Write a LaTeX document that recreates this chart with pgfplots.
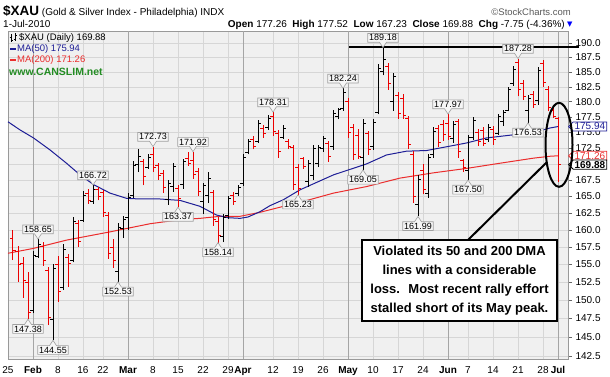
\documentclass[border=0pt]{standalone}
\usepackage{pgfplots}
\pgfplotsset{compat=1.18}
\usepackage{pgfplotstable}
\usetikzlibrary{shapes.callouts,shapes.symbols}
\usepackage{fontspec}
\setmainfont{Liberation Sans}
\newfontfamily\dejavu{DejaVu Sans}

\definecolor{barred}{RGB}{235,0,0}
\definecolor{maBlue}{RGB}{30,30,150}
\definecolor{maRed}{RGB}{235,45,45}
\definecolor{gridc}{RGB}{214,214,214}
\definecolor{bgc}{RGB}{240,240,240}
\definecolor{monthc}{RGB}{165,165,165}
\definecolor{csgreen}{RGB}{35,140,35}
\definecolor{lblborder}{RGB}{160,160,160}
\definecolor{lblfill}{RGB}{246,246,246}

\pgfplotstableread{
i o h l c
5 148.6 156.9 148.2 156.3
6 156.2 158.65 155.9 157.8
9 147.4 155.1 144.55 154.4
11 151.8 157.9 151.4 157.2
13 155.6 161.9 155.3 161.3
15 161.4 165.8 161.2 165.2
17 164.2 166.72 163.9 166.1
22 154.0 161.0 152.53 160.4
23 160.2 162.0 158.8 161.5
24 161.8 165.5 160.0 164.9
25 165.2 170.4 164.7 169.8
26 169.9 172.4 168.7 171.2
28 169.5 171.6 169.2 171.0
32 164.5 167.5 163.7 167.0
33 166.5 170.2 165.7 169.6
35 166.8 170.7 166.2 170.3
39 164.2 167.1 162.4 166.6
40 165.2 168.7 164.0 167.8
43 159.0 162.4 158.2 161.8
44 162.2 165.0 161.6 164.6
46 165.4 166.8 165.0 166.4
47 167.0 171.5 166.6 171.0
48 171.8 173.9 171.5 173.5
50 173.5 177.0 173.3 176.5
52 175.8 177.8 175.4 177.3
55 174.2 176.2 173.9 175.6
60 167.2 170.6 166.5 170.0
61 168.2 173.0 167.5 172.4
62 170.0 173.0 169.5 172.6
63 172.4 174.4 171.9 174.0
65 172.8 178.7 172.2 178.0
66 177.6 179.0 177.1 178.7
67 178.9 182.24 178.5 181.5
71 171.0 177.1 169.05 176.4
73 172.8 177.1 172.2 176.6
74 178.2 186.3 177.9 185.6
75 185.0 189.18 184.4 187.2
77 180.0 184.9 178.5 184.2
82 163.8 168.2 161.99 167.6
84 165.5 171.5 164.8 171.0
85 171.4 175.9 171.0 175.2
89 174.0 176.9 173.3 176.2
92 169.0 174.6 167.50 174.2
93 174.2 177.5 173.8 176.9
96 173.8 176.3 173.5 175.8
98 174.8 178.0 174.6 177.6
99 176.8 178.7 176.0 178.2
100 178.6 182.5 178.4 182.0
101 183.0 186.0 182.7 185.4
104 178.5 181.1 176.53 180.6
106 180.2 185.8 179.5 185.2
}\upbars

\pgfplotstableread{
i o h l c
1 158.8 160.0 155.6 157.0
2 156.8 157.6 152.5 155.0
3 155.2 156.1 150.3 152.8
4 152.4 153.9 147.38 148.3
7 157.6 158.2 154.8 155.5
8 154.1 154.6 146.6 147.6
10 155.0 156.2 149.8 151.2
12 156.0 156.5 151.8 155.2
14 161.0 161.4 157.5 158.3
16 165.5 166.1 163.9 164.4
18 166.0 166.4 164.4 165.0
19 165.6 166.0 161.9 162.5
20 162.2 162.7 155.8 156.5
21 157.5 158.7 154.5 155.6
27 170.3 170.7 166.7 168.0
29 171.5 172.73 168.7 169.5
30 169.7 170.2 167.5 168.2
31 168.5 169.0 165.5 166.3
34 166.2 166.7 163.37 164.6
36 170.8 171.9 169.7 170.0
37 170.5 171.92 167.7 168.4
38 168.8 169.4 165.0 165.8
41 165.6 166.0 160.6 161.5
42 161.3 161.9 158.14 159.2
45 165.2 165.6 163.7 164.2
49 173.8 174.4 172.3 172.8
51 175.6 176.2 174.1 174.8
53 177.6 178.31 174.4 175.2
54 174.8 175.4 171.0 172.0
56 173.6 173.9 172.3 172.8
57 172.5 173.0 166.0 166.8
58 169.5 170.0 165.23 166.2
59 170.8 171.1 169.2 169.6
64 173.2 173.6 170.3 171.2
68 180.0 180.6 174.1 175.0
69 175.8 176.3 170.6 171.5
70 174.5 175.5 170.8 171.2
72 174.8 175.2 171.4 172.2
76 186.0 186.5 182.0 183.0
78 181.0 181.6 177.2 178.0
79 180.5 181.3 177.2 177.8
80 177.2 177.7 172.3 173.0
81 171.5 172.0 164.0 165.0
83 169.0 170.0 165.3 166.0
86 175.6 176.2 172.6 173.4
87 176.2 177.0 173.6 174.6
88 176.5 177.97 173.8 174.4
90 176.8 177.2 171.0 172.0
91 170.6 170.8 168.7 169.4
94 175.0 175.6 172.8 173.5
95 175.3 175.9 172.8 173.2
97 175.5 176.0 173.0 173.8
102 186.6 187.28 180.9 182.0
103 183.0 183.6 180.3 180.9
105 181.2 181.7 179.0 179.6
107 186.5 187.1 182.5 183.2
108 182.0 182.7 178.4 179.0
109 178.6 179.0 177.3 177.63
110 177.26 177.52 167.23 169.88
}\dnbars

\pgfplotstableread{
i v
0 176.7
2.4 175.4
5.1 174.1
8.4 172.2
11.7 170.1
14.4 168.3
17.1 166.8
20.4 165.5
23.7 164.7
26.4 164.6
30.4 164.6
34.4 164.4
38.4 163.5
41.7 162.2
44 161.8
46.4 161.7
48 161.9
50.4 162.7
52.4 163.6
55.1 164.5
58.4 166.0
65.1 168.3
71.7 170.0
75.7 171.4
79.7 172.0
83.7 172.1
87.7 172.7
91.7 173.3
95.7 174.1
101.1 174.6
105.1 175.0
108.4 175.7
110 175.94
}\mafifty

\pgfplotstableread{
i v
0 156.6
5.1 157.3
11.7 158.5
20.4 159.7
28.4 160.9
34.4 161.5
38.4 161.7
42.4 162.0
46.4 162.0
50.4 162.6
55.1 163.5
58.4 164.1
65.1 165.5
71.7 166.5
78.4 167.8
85.1 168.6
91.7 169.3
98.4 170.1
105.1 170.9
108.4 171.2
110 171.26
}\matwohundred

\tikzset{
  lbl/.style={rectangle callout, draw=lblborder, fill=lblfill, line width=0.6pt,
    font=\fontsize{9}{10}\selectfont, inner xsep=1.5pt, inner ysep=1.2pt,
    callout pointer width=7pt, text=black},
  vbox/.style={signal, signal to=west, fill=white, line width=0.8pt,
    font=\fontsize{10}{11}\selectfont, inner xsep=1.5pt, inner ysep=1pt, anchor=west}
}
\pgfplotsset{
  hl/.style={draw=none, mark=none, forget plot, error bars/.cd, y dir=plus, y explicit, error mark=none,
    error bar style={draw=#1, line width=1pt}},
  tk/.style 2 args={draw=none, mark=none, forget plot, error bars/.cd, x dir=#2, x fixed=0.55, error mark=none,
    error bar style={draw=#1, line width=1pt}}
}
\newcommand{\highlab}[2]{\node[lbl,anchor=south,callout absolute pointer={(axis cs:#1,#2)}] at ([yshift=5pt]axis cs:#1,#2) {#2};}
\newcommand{\lowlab}[2]{\node[lbl,anchor=north,callout absolute pointer={(axis cs:#1,#2)}] at ([yshift=-5pt]axis cs:#1,#2) {#2};}

\begin{document}
\begin{tikzpicture}
\useasboundingbox (0,0) rectangle (610pt,377pt);
\begin{axis}[
  at={(8pt,18pt)}, anchor=south west,
  scale only axis, width=560pt, height=328pt,
  xmin=0, xmax=112, ymode=log, ymin=142.1, ymax=192.1,
  clip=false,
  axis background/.style={fill=bgc},
  axis line style={draw=black!40, line width=0.6pt},
  xtick={0,10,15,19,29,34,39,44,53,58,63,73,78,83,92,97,102,107},
  xticklabels={25,8,16,22,8,15,22,29,12,19,26,10,17,24,7,14,21,28},
  extra x ticks={5,24,47,68,88,110},
  extra x tick labels={Feb,Mar,Apr,May,Jun,Jul},
  extra x tick style={grid=major, major grid style={draw=monthc, line width=0.6pt},
     xticklabel style={font=\fontsize{10}{12}\selectfont\bfseries}},
  xmajorgrids, ymajorgrids, yminorgrids=false,
  major grid style={draw=gridc, line width=0.5pt},
  xtick style={draw=none},
  ytick={142.5,145,147.5,150,152.5,155,157.5,160,162.5,165,167.5,170,172.5,175,177.5,180,182.5,185,187.5,190},
  yticklabels={142.5,145.0,147.5,150.0,152.5,155.0,157.5,160.0,162.5,165.0,167.5,170.0,172.5,175.0,177.5,180.0,182.5,185.0,187.5,190.0},
  minor ytick={},
  ytick pos=right, yticklabel pos=right,
  ytick style={draw=black!60, line width=0.5pt},
  tick align=outside, major tick length=4pt,
  tick label style={font=\fontsize{10}{12}\selectfont},
]
% moving averages
\addplot[maRed, line width=1pt, no marks] table[x=i, y=v] {\matwohundred};
\addplot[maBlue, line width=1pt, no marks] table[x=i, y=v] {\mafifty};
% OHLC bars
\addplot[hl=black] table[x=i, y=l, y error expr=\thisrow{h}-\thisrow{l}] {\upbars};
\addplot[tk={black}{minus}] table[x=i, y=o] {\upbars};
\addplot[tk={black}{plus}] table[x=i, y=c] {\upbars};
\addplot[hl=barred] table[x=i, y=l, y error expr=\thisrow{h}-\thisrow{l}] {\dnbars};
\addplot[tk={barred}{minus}] table[x=i, y=o] {\dnbars};
\addplot[tk={barred}{plus}] table[x=i, y=c] {\dnbars};

% resistance line
\draw[black, line width=2pt] (axis cs:68.2,189.2) -- (axis cs:114.2,189.2);

% value labels
\highlab{6}{158.65}
\lowlab{4}{147.38}
\lowlab{9}{144.55}
\highlab{17}{166.72}
\lowlab{22}{152.53}
\highlab{29}{172.73}
\lowlab{34}{163.37}
\highlab{37}{171.92}
\lowlab{42}{158.14}
\highlab{53}{178.31}
\lowlab{58}{165.23}
\highlab{67}{182.24}
\lowlab{71}{169.05}
\highlab{75}{189.18}
\lowlab{82}{161.99}
\highlab{88}{177.97}
\lowlab{92}{167.50}
\highlab{102}{187.28}
\lowlab{104}{176.53}

% right-hand value boxes
\node[vbox, draw=maBlue, text=maBlue] at (axis cs:112,175.94) {175.94};
\node[vbox, draw=maRed, text=maRed] at (axis cs:112,171.26) {171.26};
\node[vbox, draw=black, text=black, font=\fontsize{10}{11}\selectfont\bfseries] at (axis cs:112,169.88) {169.88};

% ellipse
\draw[black, line width=2pt] (axis cs:110.2,173.0) ellipse [x radius=13.5pt, y radius=42pt];
\end{axis}

% header
\node[anchor=base west, inner sep=0] at (3pt,361pt) {{\fontsize{13.5}{14}\selectfont\bfseries \$XAU} {\fontsize{10}{12}\selectfont (Gold \& Silver Index - Philadelphia) INDX}};
\node[anchor=base east, inner sep=0, text=black!65, font=\fontsize{9.5}{11}\selectfont] at (571pt,361pt) {©StockCharts.com};
\node[anchor=base west, inner sep=0, font=\fontsize{10}{12}\selectfont] at (3pt,349pt) {1-Jul-2010};
\node[anchor=base east, inner sep=0, font=\fontsize{10}{12}\selectfont] at (565pt,349pt) {\textbf{Open} 177.26 \ \textbf{High} 177.52 \ \textbf{Low} 167.23 \ \textbf{Close} 169.88 \ \textbf{Chg} -7.75 (-4.36\%)};
\node[anchor=base west, inner sep=0, text=blue, font=\dejavu\fontsize{7}{8}\selectfont] at (567pt,350pt) {▼};

% legend
\draw[line width=0.7pt] (11pt,335pt)--(11pt,343pt) (9.5pt,340pt)--(11pt,340pt) (11pt,337pt)--(12.5pt,337pt);
\draw[line width=0.7pt] (15pt,336pt)--(15pt,344pt) (13.5pt,338pt)--(15pt,338pt) (15pt,342pt)--(16.5pt,342pt);
\node[anchor=west, inner sep=0, font=\fontsize{9.5}{11}\selectfont] at (19pt,339.5pt) {\$XAU (Daily) 169.88};
\draw[maBlue, line width=1.5pt] (10pt,328pt)--(16pt,328pt);
\node[anchor=west, inner sep=0, text=maBlue, font=\fontsize{9.5}{11}\selectfont] at (17pt,328pt) {MA(50) 175.94};
\draw[maRed, line width=1.5pt] (10pt,317pt)--(16pt,317pt);
\node[anchor=west, inner sep=0, text=maRed, font=\fontsize{9.5}{11}\selectfont] at (17pt,317pt) {MA(200) 171.26};
\node[anchor=west, inner sep=0, text=csgreen, font=\fontsize{10.5}{12}\selectfont\bfseries] at (9pt,305pt) {www.CANSLIM.net};

% callout
\draw[black, line width=2pt] (468pt,137pt) -- (547pt,215pt);
\node[draw=black, line width=2pt, fill=white, minimum width=195pt, minimum height=81pt, inner sep=0,
  align=center, font=\fontsize{13}{19}\selectfont\bfseries] at (459.5pt,96.5pt)
  {Violated its 50 and 200 DMA\\lines with a considerable\\loss. \ Most recent rally effort\\stalled short of its May peak.};
\end{tikzpicture}
\end{document}
